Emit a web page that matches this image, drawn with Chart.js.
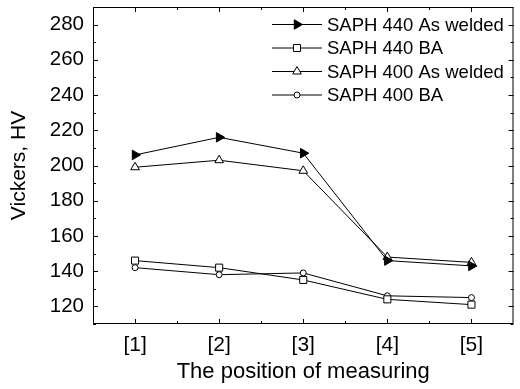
<!DOCTYPE html>
<html>
<head>
<meta charset="utf-8">
<script src="https://cdn.jsdelivr.net/npm/chart.js@4/dist/chart.umd.min.js"></script>
<style>
  html, body { margin: 0; padding: 0; background: #fff; }
  #wrap { width: 520px; height: 389px; }
</style>
</head>
<body>
<div id="wrap"><canvas id="hardnessChart"></canvas></div>
<script>
// valores
const positions = ['[1]', '[2]', '[3]', '[4]', '[5]'];
const saph440Welded = [206, 216, 207, 146, 143];
const saph440BA = [146, 142, 135, 124, 121];
const saph400Welded = [199, 203, 197, 148, 145];
const saph400BA = [142, 138, 139, 126, 125];
const yMin = 110, yMax = 290, yMajor = 20, yMinor = 10;

const series = [
    { label: 'SAPH 440 As welded', data: saph440Welded, pointStyle: 'triangle', rotation: 90, radius: 5.5, fill: '#000' },
    { label: 'SAPH 440 BA', data: saph440BA, pointStyle: 'rect', rotation: 0, radius: 5, fill: '#fff' },
    { label: 'SAPH 400 As welded', data: saph400Welded, pointStyle: 'triangle', rotation: 0, radius: 5, fill: '#fff' },
    { label: 'SAPH 400 BA', data: saph400BA, pointStyle: 'circle', rotation: 0, radius: 3, fill: '#fff' }
];

Chart.defaults.font.family = "'Liberation Sans', Arial, sans-serif";
Chart.defaults.font.size = 18;
Chart.defaults.color = '#000';

// moldura com ticks para dentro, nos quatro lados
const frameTicks = {
    id: 'frameTicks',
    afterDatasetsDraw(chart) {
        const { ctx, chartArea: a, scales: { x, y } } = chart;
        ctx.save();
        ctx.strokeStyle = '#000';
        ctx.lineWidth = 1;
        ctx.strokeRect(a.left + 0.5, a.top + 0.5, a.right - a.left - 1, a.bottom - a.top - 1);
        ctx.beginPath();
        y.ticks.forEach(t => {
            const py = Math.round(y.getPixelForValue(t.value)) + 0.5;
            const len = t.value % yMajor === 0 ? 5 : 3;
            ctx.moveTo(a.left, py); ctx.lineTo(a.left + len, py);
            ctx.moveTo(a.right, py); ctx.lineTo(a.right - len, py);
        });
        positions.forEach((p, i) => {
            const px = Math.round(x.getPixelForValue(i)) + 0.5;
            ctx.moveTo(px, a.bottom); ctx.lineTo(px, a.bottom - 5);
            ctx.moveTo(px, a.top); ctx.lineTo(px, a.top + 5);
            if (i < positions.length - 1) {
                const mx = Math.round((x.getPixelForValue(i) + x.getPixelForValue(i + 1)) / 2) + 0.5;
                ctx.moveTo(mx, a.bottom); ctx.lineTo(mx, a.bottom - 3);
                ctx.moveTo(mx, a.top); ctx.lineTo(mx, a.top + 3);
            }
        });
        ctx.stroke();
        ctx.restore();
    }
};

// legenda com linha e marcador, como no original
const lineLegend = {
    id: 'lineLegend',
    afterDraw(chart) {
        const { ctx } = chart;
        ctx.save();
        ctx.font = "18.5px 'Liberation Sans', Arial, sans-serif";
        ctx.textBaseline = 'middle';
        chart.data.datasets.forEach((ds, i) => {
            const yy = 24.5 + i * 23.5;
            ctx.strokeStyle = '#000';
            ctx.lineWidth = 1;
            ctx.beginPath();
            ctx.moveTo(272, yy); ctx.lineTo(322, yy);
            ctx.stroke();
            ctx.fillStyle = ds.pointBackgroundColor;
            Chart.helpers.drawPoint(ctx, {
                pointStyle: ds.pointStyle, rotation: ds.pointRotation,
                radius: ds.pointRadius, borderWidth: 1
            }, 297, yy);
            ctx.fillStyle = '#000';
            ctx.fillText(ds.label, 327, yy + 1);
        });
        ctx.restore();
    }
};

const ctx = document.getElementById('hardnessChart');
new Chart(ctx.getContext('2d'), {
    type: 'line',
    data: {
        labels: positions,
        datasets: series.map(s => ({
            label: s.label,
            data: s.data,
            borderColor: '#000',
            borderWidth: 1,
            pointStyle: s.pointStyle,
            pointRotation: s.rotation,
            pointRadius: s.radius,
            pointBackgroundColor: s.fill,
            pointBorderColor: '#000',
            pointBorderWidth: 1,
            tension: 0,
            fill: false
        }))
    },
    options: {
        responsive: true,
        maintainAspectRatio: false,
        animation: false,
        layout: { padding: { top: 7, right: 1, left: 0, bottom: 0 } },
        scales: {
            x: {
                type: 'category',
                offset: true,
                grid: { display: false, drawTicks: false },
                border: { display: false },
                ticks: { padding: 9, font: { size: 21 } },
                title: { display: true, text: 'The position of measuring', font: { size: 22 }, padding: { top: 0, bottom: 4 } },
                afterFit(scale) {
                    scale.height = 65;
                    scale.paddingLeft = 0; scale.paddingRight = 0;
                }
            },
            y: {
                min: yMin,
                max: yMax,
                grid: { display: false, drawTicks: false },
                border: { display: false },
                ticks: {
                    stepSize: yMinor,
                    autoSkip: false,
                    padding: 9,
                    font: { size: 20.5 },
                    callback: function(value) {
                        return value % yMajor === 0 ? value : '';
                    }
                },
                title: { display: true, text: 'Vickers, HV', font: { size: 21 }, padding: { top: 7, bottom: 0 } },
                afterFit(scale) {
                    scale.width = 93;
                    scale.paddingTop = 0; scale.paddingBottom = 0;
                }
            }
        },
        plugins: {
            legend: { display: false },
            tooltip: { enabled: false }
        }
    },
    plugins: [frameTicks, lineLegend]
});
</script>
</body>
</html>
